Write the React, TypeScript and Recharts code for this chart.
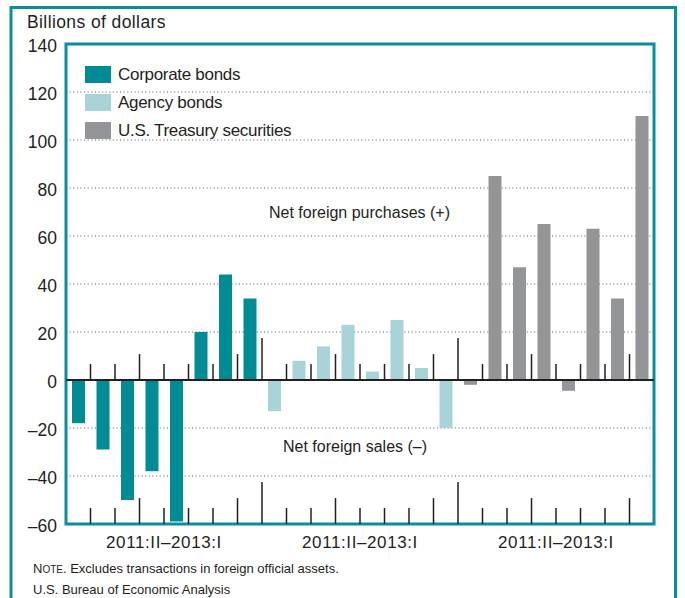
import {
  BarChart,
  Bar,
  XAxis,
  YAxis,
  CartesianGrid,
  ReferenceLine,
  ReferenceArea,
  Legend,
} from 'recharts';

const quarters = ['2011:II', '2011:III', '2011:IV', '2012:I', '2012:II', '2012:III', '2012:IV', '2013:I'];
const corporateBonds = [-18, -29, -50, -38, -59, 20, 44, 34];
const agencyBonds = [-13, 8, 14, 23, 3.5, 25, 5, -20];
const treasurySecurities = [-2, 85, 47, 65, -4.5, 63, 34, 110];
const groupLabels = ['2011:II–2013:I', '2011:II–2013:I', '2011:II–2013:I'];
const yTicks = [-60, -40, -20, 0, 20, 40, 60, 80, 100, 120, 140];

const TEAL = '#0a8e97';
const INK = '#231f20';
const FONT = '"Liberation Sans", Arial, Helvetica, sans-serif';

const series = [
  { key: 'corporate', name: 'Corporate bonds', color: '#008b95', values: corporateBonds },
  { key: 'agency', name: 'Agency bonds', color: '#a7d3d9', values: agencyBonds },
  { key: 'treasury', name: 'U.S. Treasury securities', color: '#939598', values: treasurySecurities },
];

const perGroup = quarters.length;
const slots = series.length * perGroup;

// one row per quarter; only the series of its own group has a value
const data = series.flatMap((s, g) =>
  s.values.map((v, i) => {
    const row: Record<string, number | string | null> = { x: g * perGroup + i + 0.5, quarter: quarters[i] };
    series.forEach((o) => {
      row[o.key] = o.key === s.key ? v : null;
    });
    return row;
  })
);

// small marks between quarters, taller at year ends, tallest between groups
const boundaries = Array.from({ length: slots - 1 }, (_, i) => i + 1);
const markHeight = (k: number) => {
  const m = k % perGroup;
  if (m === 0) return 17.5;
  if (m === 3 || m === 7) return 10.8;
  return 6.7;
};

function LegendBox({ payload }: any) {
  // keep the order of the series list, whatever order recharts hands over
  const items = series.map((s) => {
    const p = (payload || []).find((it: any) => it.value === s.name);
    return { value: s.name, color: p ? p.color : s.color };
  });
  return (
    <div style={{ fontFamily: FONT, color: INK }}>
      {items.map((it) => (
        <div key={it.value} style={{ display: 'flex', alignItems: 'center', height: 17, marginBottom: 11 }}>
          <span style={{ width: 26, height: 17, background: it.color, display: 'inline-block' }} />
          <span style={{ marginLeft: 7, fontSize: 17, lineHeight: '17px', letterSpacing: -0.3 }}>{it.value}</span>
        </div>
      ))}
    </div>
  );
}

export default function App() {
  return (
    <div
      style={{
        position: 'absolute',
        left: 0,
        top: 0,
        width: 685,
        height: 598,
        overflow: 'hidden',
        background: '#fff',
        fontFamily: FONT,
      }}
    >
      <BarChart
        width={685}
        height={598}
        data={data}
        stackOffset="sign"
        margin={{ top: 44, right: 31, bottom: 44, left: 0 }}
      >
        <CartesianGrid vertical={false} stroke="#6d6e71" strokeDasharray="1.2 2.4" />
        <XAxis
          type="number"
          dataKey="x"
          domain={[0, slots]}
          ticks={[4, 12, 20]}
          interval={0}
          tickFormatter={(v: number) => groupLabels[Math.floor(v / perGroup)]}
          axisLine={false}
          tickLine={false}
          tickSize={0}
          tickMargin={12}
          height={30}
          tick={{ fontSize: 17, fill: INK, fontFamily: FONT, letterSpacing: 0.6 }}
        />
        <YAxis
          type="number"
          domain={[-60, 140]}
          ticks={yTicks}
          interval={0}
          width={66}
          axisLine={false}
          tickLine={false}
          tickSize={0}
          tickMargin={9}
          tick={{ fontSize: 17.5, fill: INK, fontFamily: FONT, dy: 2 }}
          tickFormatter={(v: number) => (v < 0 ? `–${-v}` : `${v}`)}
        />
        <Legend
          layout="vertical"
          align="center"
          verticalAlign="middle"
          wrapperStyle={{ left: 85, top: 66, width: 'auto' }}
          content={<LegendBox />}
        />
        {series.map((s) => (
          <Bar
            key={s.key}
            dataKey={s.key}
            name={s.name}
            fill={s.color}
            stackId="q"
            barSize={13}
            isAnimationActive={false}
          />
        ))}
        <ReferenceLine y={0} stroke={INK} strokeWidth={2} />
        {boundaries.map((k) => (
          <ReferenceLine
            key={`up-${k}`}
            segment={[{ x: k, y: 0 }, { x: k, y: markHeight(k) }]}
            stroke={INK}
            strokeWidth={1.5}
          />
        ))}
        {boundaries.map((k) => (
          <ReferenceLine
            key={`low-${k}`}
            segment={[{ x: k, y: -60 }, { x: k, y: -60 + markHeight(k) }]}
            stroke={INK}
            strokeWidth={1.5}
          />
        ))}
        <ReferenceArea
          x1={0}
          x2={slots}
          y1={-60}
          y2={140}
          fill="none"
          fillOpacity={0}
          stroke={TEAL}
          strokeWidth={3}
          ifOverflow="visible"
        />
      </BarChart>
      <svg
        width={685}
        height={598}
        style={{ position: 'absolute', left: 0, top: 0, pointerEvents: 'none' }}
      >
        <path d="M 11 600 V 7.5 H 675.5 V 600" fill="none" stroke={TEAL} strokeWidth={3} />
        <text x={27} y={28} fontSize={17.5} fill={INK} fontFamily={FONT} letterSpacing={0.4}>
          Billions of dollars
        </text>
        <text x={359.5} y={218} fontSize={16} fill={INK} fontFamily={FONT} textAnchor="middle">
          Net foreign purchases (+)
        </text>
        <text x={355} y={452} fontSize={16} fill={INK} fontFamily={FONT} textAnchor="middle">
          Net foreign sales (–)
        </text>
        <text x={33} y={573} fontSize={13} fill={INK} fontFamily={FONT}>
          N<tspan fontSize={10}>OTE</tspan>. Excludes transactions in foreign official assets.
        </text>
        <text x={33} y={594} fontSize={13} fill={INK} fontFamily={FONT}>
          U.S. Bureau of Economic Analysis
        </text>
      </svg>
    </div>
  );
}
